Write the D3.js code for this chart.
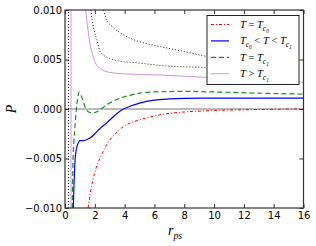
<!DOCTYPE html>
<html>
<head>
<meta charset="utf-8">
<script src="https://cdn.jsdelivr.net/npm/d3@7"></script>
<style>
  body { margin: 0; background: #fff; }
  svg { display: block; }
</style>
</head>
<body>
<svg id="chart" width="316" height="246"></svg>
<script>
// curve values (r_ps, P)
let redR = [1.55, 1.7, 2.0, 2.4, 2.8, 3.3, 4.0, 5.0, 6.0, 7.0, 8.0, 10, 12, 14, 16]
let redP = [-0.0100, -0.0085, -0.0064, -0.0048, -0.0036, -0.0026, -0.0017, -0.0011, -0.0007, -0.00045, -0.0003, -0.00015, -0.00008, -0.00003, 0.0]

let blueR = [0.56, 0.6, 0.65, 0.7, 0.8, 0.9, 1.0, 1.2, 1.45, 1.7, 2.0, 2.4, 2.8, 3.3, 3.8, 4.4, 5.0, 6.0, 7.0, 8.0, 10, 13, 16]
let blueP = [-0.0100, -0.0078, -0.0058, -0.0047, -0.0038, -0.0034, -0.0032, -0.0032, -0.0031, -0.0029, -0.0025, -0.0019, -0.0014, -0.0007, -0.0001, 0.0003, 0.0006, 0.0009, 0.00102, 0.00108, 0.0011, 0.0011, 0.0011]

let greenR = [0.49, 0.51, 0.54, 0.6, 0.67, 0.75, 0.85, 0.96, 1.1, 1.3, 1.5, 1.8, 2.1, 2.4, 3.0, 3.7, 4.4, 5.0, 6.0, 8.0, 10, 13, 16]
let greenP = [-0.0100, -0.0075, -0.0050, -0.0032, -0.0018, -0.0002, 0.0011, 0.0017, 0.0013, 0.0004, -0.0002, -0.0004, -0.0003, 0.0000, 0.0006, 0.0011, 0.0014, 0.0016, 0.00172, 0.00178, 0.00172, 0.0016, 0.0015]

let pinkR = [1.39, 1.5, 1.68, 1.85, 2.0, 2.36, 3.0, 4.0, 6.4, 9.5, 12, 16]
let pinkP = [0.0100, 0.0085, 0.0066, 0.0055, 0.0048, 0.0041, 0.0037, 0.00355, 0.00343, 0.0032, 0.0031, 0.0027]

let dotLowR = [1.73, 1.9, 2.13, 2.36, 3.0, 3.8, 4.6, 6.4, 9.5]
let dotLowP = [0.0100, 0.0083, 0.0070, 0.0058, 0.0051, 0.0048, 0.0047, 0.0044, 0.0042]

let dotHighR = [2.58, 2.8, 3.2, 3.7, 4.6, 5.5, 6.4, 8.0, 9.5]
let dotHighP = [0.0100, 0.0090, 0.0083, 0.0077, 0.0070, 0.0066, 0.0063, 0.0058, 0.0053]

// vertical branches (poles) near the origin
let pinkPoleR = 0.40
let blackPoleR = 0.24

let xTicks = [0, 2, 4, 6, 8, 10, 12, 14, 16]
let yTicks = [-0.010, -0.005, 0.000, 0.005, 0.010]

let legendLabels = [
  [["T", "i"], [" = ", "r"], ["T", "i"], ["c", "s1"], ["0", "s2"]],
  [["T", "i"], ["c", "s1"], ["0", "s2"], [" < ", "r"], ["T", "i"], [" < ", "r"], ["T", "i"], ["c", "s1"], ["1", "s2"]],
  [["T", "i"], [" = ", "r"], ["T", "i"], ["c", "s1"], ["1", "s2"]],
  [["T", "i"], [" > ", "r"], ["T", "i"], ["c", "s1"], ["1", "s2"]]
]

let zip = (a, b) => a.map((v, i) => [v, b[i]])

let series = [
  {pts: zip(dotHighR, dotHighP), color: "#222", width: 1, dash: "1,2"},
  {pts: zip(dotLowR, dotLowP), color: "#222", width: 1, dash: "1,2"},
  {pts: zip(pinkR, pinkP), color: "#c68ad0", width: 0.9, dash: null},
  {pts: zip(greenR, greenP), color: "#1e8f1e", width: 1.2, dash: "5,3"},
  {pts: zip(blueR, blueP), color: "#0000ff", width: 1.2, dash: null},
  {pts: zip(redR, redP), color: "#ff0000", width: 1, dash: "3,2,1,2"}
]

let legendStyles = [series[5], series[4], series[3], series[2]]

let margin = {top: 10, right: 12.5, bottom: 38, left: 65}
let W = 316, H = 246

let svg = d3.select("#chart")

let x = d3.scaleLinear().domain([0, 16]).range([margin.left, W - margin.right])
let y = d3.scaleLinear().domain([-0.01, 0.01]).range([H - margin.bottom, margin.top])

svg.append("defs").append("clipPath").attr("id", "plot-clip")
  .append("rect")
  .attr("x", x(0)).attr("y", y(0.01))
  .attr("width", x(16) - x(0)).attr("height", y(-0.01) - y(0.01))

let plot = svg.append("g").attr("clip-path", "url(#plot-clip)")

// zero line
plot.append("line")
  .attr("x1", x(0)).attr("x2", x(16))
  .attr("y1", y(0)).attr("y2", y(0))
  .attr("stroke", "#777").attr("stroke-width", 1)

// vertical branches
plot.append("line")
  .attr("x1", x(blackPoleR)).attr("x2", x(blackPoleR))
  .attr("y1", y(-0.01)).attr("y2", y(0.01))
  .attr("stroke", "#222").attr("stroke-width", 1).attr("stroke-dasharray", "1,2")
plot.append("line")
  .attr("x1", x(pinkPoleR)).attr("x2", x(pinkPoleR))
  .attr("y1", y(-0.01)).attr("y2", y(0.01))
  .attr("stroke", "#c68ad0").attr("stroke-width", 0.9)

let line = d3.line()
  .x(d => x(d[0]))
  .y(d => y(d[1]))
  .curve(d3.curveMonotoneX)

plot.selectAll("path.curve")
  .data(series).enter()
  .append("path")
  .attr("class", "curve")
  .attr("d", d => line(d.pts))
  .attr("fill", "none")
  .attr("stroke", d => d.color)
  .attr("stroke-width", d => d.width)
  .attr("stroke-dasharray", d => d.dash)

// axes, ticks pointing inward on all four sides
let fmtY = d3.format(".3f")

function style_axis(g) {
  g.select(".domain").remove()
  g.selectAll(".tick line").attr("stroke", "#333")
  g.selectAll(".tick text")
    .attr("fill", "#000")
    .style("font-family", "'DejaVu Sans', sans-serif")
    .style("font-size", "10px")
}

svg.append("g")
  .attr("transform", `translate(0, ${y(-0.01)})`)
  .call(d3.axisBottom(x).tickValues(xTicks).tickSize(-4).tickPadding(4))
  .call(style_axis)

svg.append("g")
  .attr("transform", `translate(${x(0)}, 0)`)
  .call(d3.axisLeft(y).tickValues(yTicks).tickFormat(fmtY).tickSize(-4).tickPadding(3))
  .call(style_axis)

svg.append("g")
  .attr("transform", `translate(0, ${y(0.01)})`)
  .call(d3.axisTop(x).tickValues(xTicks).tickFormat("").tickSize(-4))
  .call(style_axis)

svg.append("g")
  .attr("transform", `translate(${x(16)}, 0)`)
  .call(d3.axisRight(y).tickValues(yTicks).tickFormat("").tickSize(-4))
  .call(style_axis)

svg.append("rect")
  .attr("x", x(0)).attr("y", y(0.01))
  .attr("width", x(16) - x(0)).attr("height", y(-0.01) - y(0.01))
  .attr("fill", "none").attr("stroke", "#333").attr("stroke-width", 1.2)

// math-like text: T italic, relations roman, nested subscripts
function math_text(sel, parts, size) {
  let level = 0
  parts.forEach(p => {
    let target = p[1] === "s1" ? 1 : p[1] === "s2" ? 2 : 0
    let shift = [0, 0.28, 0.45][target] - [0, 0.28, 0.45][level]
    let fs = [1, 0.7, 0.5][target] * size
    sel.append("tspan")
      .attr("dy", (shift * size).toFixed(2))
      .style("font-size", fs + "px")
      .style("font-style", p[1] === "r" ? "normal" : "italic")
      .text(p[0])
    level = target
  })
}

let serif = "'Liberation Serif', 'DejaVu Serif', serif"

// axis labels
svg.append("text")
  .attr("transform", `translate(16, ${y(0)}) rotate(-90)`)
  .attr("text-anchor", "middle")
  .style("font-family", serif)
  .style("font-style", "italic")
  .style("font-size", "14px")
  .text("P")

let xl = svg.append("text")
  .attr("x", 168).attr("y", 235)
  .style("font-family", serif)
math_text(xl, [["r", "i"], ["ps", "s1"]], 14)

// legend
let lg = svg.append("g").attr("transform", "translate(207, 15.5)")
lg.append("rect")
  .attr("width", 92).attr("height", 69)
  .attr("fill", "#fff").attr("stroke", "#222").attr("stroke-width", 1)

legendStyles.forEach((s, i) => {
  let cy = 9 + i * 16.4
  lg.append("line")
    .attr("x1", 4).attr("x2", 22)
    .attr("y1", cy).attr("y2", cy)
    .attr("stroke", s.color)
    .attr("stroke-width", s.width)
    .attr("stroke-dasharray", s.dash)
  let t = lg.append("text")
    .attr("x", 33).attr("y", cy + 3.5)
    .style("font-family", serif)
  math_text(t, legendLabels[i], 10.5)
})
</script>
</body>
</html>
